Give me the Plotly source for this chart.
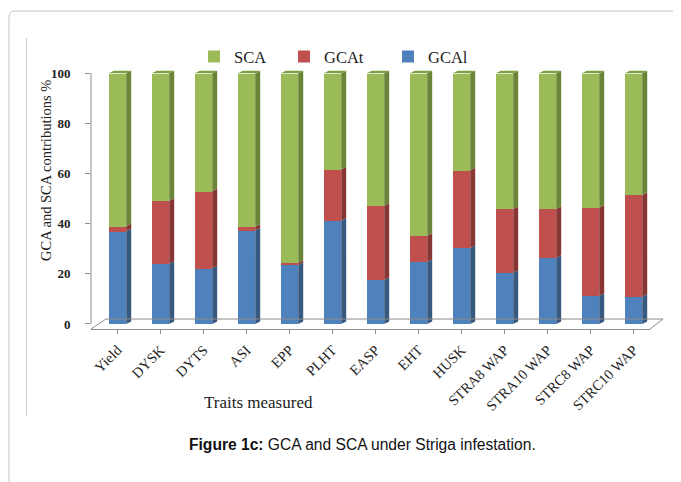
import plotly.graph_objects as go

# ---------------- data ----------------
traits = ["Yield", "DYSK", "DYTS", "ASI", "EPP", "PLHT", "EASP", "EHT", "HUSK",
          "STRA8 WAP", "STRA10 WAP", "STRC8 WAP", "STRC10 WAP"]
gcal = [37.0, 24.0, 22.2, 37.3, 23.5, 41.2, 17.5, 24.7, 30.3, 20.4, 26.4, 11.2, 10.8]
gcat = [2.0, 25.1, 30.7, 1.5, 0.9, 20.4, 29.6, 10.5, 31.0, 25.4, 19.4, 35.1, 40.6]
sca = [round(100 - a - b, 1) for a, b in zip(gcal, gcat)]

series_names = ["GCAl", "GCAt", "SCA"]
front_colors = ["#4F81BD", "#C0504D", "#9BBB59"]
side_colors = ["#37587F", "#873634", "#6A8438"]
top_color = "#7F9F45"

# The page body has an 8px margin; the figure is sized so that it fills the window.
OFF = 8
W, H = 681 - OFF, 482 - OFF
xs = list(range(len(traits)))
bar_w = 0.405
dx = 0.116   # 3-D depth offset (category units)
dy = 1.0     # 3-D depth offset (value units)

fig = go.Figure()

legend_ids = {"SCA": "legend", "GCAt": "legend2", "GCAl": "legend3"}
vals = [gcal, gcat, sca]
for name, v, col in zip(series_names, vals, front_colors):
    fig.add_trace(go.Bar(x=xs, y=v, name=name, width=bar_w,
                         marker=dict(color=col, line=dict(width=0)),
                         legend=legend_ids[name]))

# side faces of the 3-D columns, derived from the data
base = [0.0] * len(traits)
for name, v, col in zip(series_names, vals, side_colors):
    px, py = [], []
    for i, val in enumerate(v):
        y0 = base[i]
        y1 = y0 + val
        xr = xs[i] + bar_w / 2
        px += [xr, xr + dx, xr + dx, xr, xr, None]
        py += [y0, y0 + dy, y1 + dy, y1, y0, None]
        base[i] = y1
    fig.add_trace(go.Scatter(x=px, y=py, mode="lines", fill="toself",
                             fillcolor=col, line=dict(width=0, color=col),
                             hoverinfo="skip", showlegend=False))

# top faces
tx, ty = [], []
for i in xs:
    top = base[i]
    xl = xs[i] - bar_w / 2
    xr = xs[i] + bar_w / 2
    tx += [xl, xl + dx, xr + dx, xr, xl, None]
    ty += [top, top + dy, top + dy, top, top, None]
fig.add_trace(go.Scatter(x=tx, y=ty, mode="lines", fill="toself",
                         fillcolor=top_color, line=dict(width=0, color=top_color),
                         hoverinfo="skip", showlegend=False))

# ---------------- layout ----------------
def pxx(p):
    return (p - OFF) / W

def pxy(p):
    return 1 - (p - OFF) / H

x_left, x_right = 91, 650
y_bot, y_top = 331, 66
x_range = [-(117.5 - x_left) / 43, -(117.5 - x_left) / 43 + (x_right - x_left) / 43]
y_range = [-2, 103]

serif = "Liberation Serif"
axis_grey = "#8C8C8C"

fig.update_layout(
    width=W, height=H, autosize=False,
    margin=dict(l=0, r=0, t=0, b=0),
    paper_bgcolor="white", plot_bgcolor="white",
    barmode="stack", bargap=0,
    xaxis=dict(domain=[pxx(x_left), pxx(x_right)], range=x_range,
               tickmode="array", tickvals=xs, ticktext=traits,
               tickangle=-45, tickfont=dict(family=serif, size=14.5, color="#222"),
               showline=True, linecolor=axis_grey, linewidth=1,
               ticks="outside", ticklen=4, tickcolor=axis_grey, tickson="boundaries",
               ticklabelstandoff=2,
               showgrid=False, zeroline=False, fixedrange=True),
    yaxis=dict(domain=[pxy(y_bot), pxy(y_top)], range=y_range,
               tickmode="array", tickvals=[0, 20, 40, 60, 80, 100],
               tickfont=dict(family=serif, size=13, color="#222", weight="bold"),
               ticks="outside", ticklen=5, tickcolor=axis_grey,
               ticklabelstandoff=12,
               showline=False, showgrid=False, zeroline=False, fixedrange=True),
    showlegend=True,
)

leg_common = dict(orientation="h", font=dict(family=serif, size=16.5, color="#222"),
                  bgcolor="rgba(0,0,0,0)", borderwidth=0,
                  xanchor="left", yanchor="middle", y=pxy(57))
fig.update_layout(
    legend=dict(x=pxx(194), **leg_common),
    legend2=dict(x=pxx(284), **leg_common),
    legend3=dict(x=pxx(388), **leg_common),
)

shapes = []
# y axis line from 0 to 100
shapes.append(dict(type="line", xref="x domain", yref="y", x0=0, x1=0, y0=0, y1=100,
                   line=dict(color=axis_grey, width=1)))
# 3-D floor outline
fx = 15 / (x_right - x_left)
fy = 10 / (y_bot - y_top)
shapes.append(dict(type="path", xref="x domain", yref="y domain",
                   path=f"M 0,0 L {fx},{fy} L {1 + 13 / (x_right - x_left)},{fy} L 1,0",
                   line=dict(color=axis_grey, width=1)))
# outer rounded frame
r = 6
frame = (f"M {pxx(9)},{pxy(H + OFF + 5)} L {pxx(9)},{pxy(11 + r)} "
         f"Q {pxx(9)},{pxy(11)} {pxx(9 + r)},{pxy(11)} L {pxx(W + OFF + 5)},{pxy(11)}")
shapes.append(dict(type="path", xref="paper", yref="paper", path=frame,
                   line=dict(color="#C4C4C4", width=1)))
# inner vertical rule
shapes.append(dict(type="line", xref="paper", yref="paper",
                   x0=pxx(26.5), x1=pxx(26.5), y0=pxy(38), y1=pxy(418),
                   line=dict(color="#D0D0D0", width=1)))
fig.update_layout(shapes=shapes)

annotations = [
    dict(text="GCA and SCA contributions %", xref="paper", yref="paper",
         x=pxx(46), y=pxy(172), textangle=-90, showarrow=False,
         xanchor="center", yanchor="middle",
         font=dict(family=serif, size=14.5, color="#222")),
    dict(text="Traits measured", xref="paper", yref="paper",
         x=pxx(258), y=pxy(405), showarrow=False, xanchor="center", yanchor="middle",
         font=dict(family=serif, size=17, color="#222")),
    dict(text="<b>Figure 1c:</b> GCA and SCA under Striga infestation.",
         xref="paper", yref="paper", x=pxx(362), y=pxy(447), showarrow=False,
         xanchor="center", yanchor="middle",
         font=dict(family="Liberation Sans", size=15.6, color="#111")),
]
fig.update_layout(annotations=annotations)

fig.write_html("out.html")
